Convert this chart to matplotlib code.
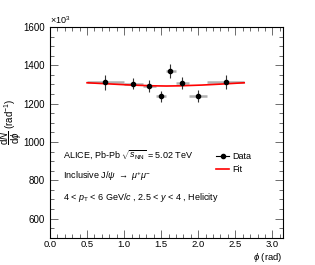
import matplotlib
matplotlib.use("Agg")
import matplotlib.pyplot as plt
from matplotlib.ticker import MultipleLocator
from matplotlib.lines import Line2D

plt.rcParams['font.family'] = ['Liberation Sans', 'DejaVu Sans']
plt.rcParams['mathtext.fontset'] = 'custom'
plt.rcParams['mathtext.rm'] = 'Liberation Sans'
plt.rcParams['mathtext.it'] = 'Liberation Sans:italic'
plt.rcParams['mathtext.bf'] = 'Liberation Sans:bold'

# Data (values in units of 10^3)
phi = [0.746, 1.12, 1.339, 1.495, 1.62, 1.776, 1.995, 2.37]
phi_lo = [0.50, 1.00, 1.25, 1.43, 1.57, 1.70, 1.87, 2.12]
phi_hi = [1.00, 1.25, 1.43, 1.57, 1.70, 1.87, 2.12, 2.62]
dndphi = [1311, 1304, 1293, 1238, 1370, 1308, 1241, 1313]
dndphi_err = [41, 29, 33, 28, 36, 32, 30, 38]

# Fit curve
fit_phi = [0.50, 0.80, 1.10, 1.40, 1.57, 1.75, 2.05, 2.35, 2.62]
fit_val = [1309, 1303, 1297, 1293, 1292, 1293, 1297, 1303, 1309]

fig = plt.figure(figsize=(3.15, 2.65), dpi=100)
ax = fig.add_axes([0.1587, 0.103, 0.7393, 0.795])

xerr_lo = [p - l for p, l in zip(phi, phi_lo)]
xerr_hi = [h - p for p, h in zip(phi, phi_hi)]
ax.errorbar(phi, dndphi, xerr=[xerr_lo, xerr_hi], fmt='none', ecolor='#b0b0b0',
            elinewidth=1.8, capsize=0, zorder=2)
ax.errorbar(phi, dndphi, yerr=dndphi_err, fmt='o', color='black', ms=3,
            ecolor='#333333', elinewidth=0.8, capsize=0, zorder=4)
ax.plot(fit_phi, fit_val, color='red', lw=1.2, zorder=3)

ax.set_xlim(0, 3.1416)
ax.set_ylim(500, 1600)
ax.xaxis.set_major_locator(MultipleLocator(0.5))
ax.xaxis.set_minor_locator(MultipleLocator(0.1))
ax.yaxis.set_major_locator(MultipleLocator(200))
ax.yaxis.set_minor_locator(MultipleLocator(50))
ax.tick_params(which='both', direction='in', top=True, right=True, labelsize=7.0)
ax.tick_params(which='major', length=6, width=0.6, color='#555555')
ax.tick_params(which='minor', length=3, width=0.6, color='#555555')
ax.tick_params(axis='x', which='major', pad=2.0, labelsize=6.8)
for s in ax.spines.values():
    s.set_linewidth(0.8)
ax.set_yticks([600, 800, 1000, 1200, 1400, 1600])

ax.text(0.0, 1.005, r'$\times10^{3}$', transform=ax.transAxes, fontsize=6.5,
        ha='left', va='bottom')
fig.text(0.898, 0.028, r'$\phi$ (rad)', fontsize=6.8, ha='right', va='center')
fig.text(0.036, 0.54, r'$\dfrac{\mathrm{d}N}{\mathrm{d}\phi}$ (rad$^{-1}$)', rotation=90,
         fontsize=7, ha='center', va='center')

fs = 6.5
ax.text(0.056, 0.389, r'ALICE, Pb-Pb $\sqrt{s_{\rm NN}}$ = 5.02 TeV', transform=ax.transAxes,
        fontsize=fs, va='center')
ax.text(0.056, 0.29, r'Inclusive J/$\psi$ $\rightarrow$ $\mu^{+}\mu^{-}$', transform=ax.transAxes,
        fontsize=fs, va='center')
ax.text(0.056, 0.19, r'4 < $p_{\rm T}$ < 6 GeV/$c$ , 2.5 < $y$ < 4 , Helicity',
        transform=ax.transAxes, fontsize=fs, va='center')

h_data = Line2D([], [], color='black', marker='o', ms=3, lw=0.8)
h_fit = Line2D([], [], color='red', lw=1.2)
ax.legend([h_data, h_fit], ['Data', 'Fit'], loc='upper left',
          bbox_to_anchor=(0.68, 0.445), frameon=False, fontsize=fs,
          handlelength=1.4, handletextpad=0.3, labelspacing=0.45)

fig.savefig('out.png', dpi=100)
